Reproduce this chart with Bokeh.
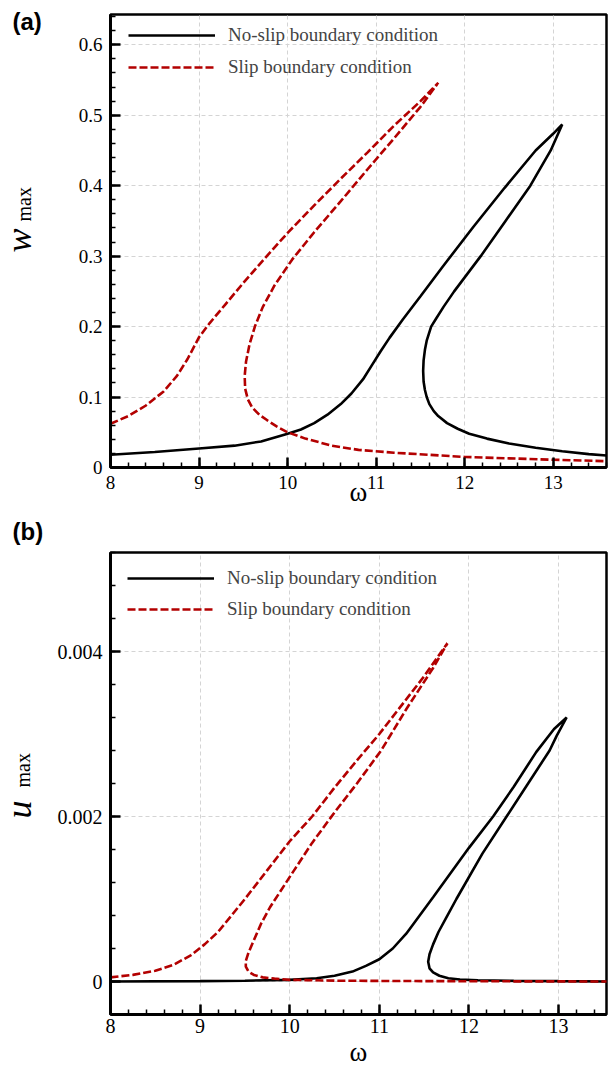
import numpy as np
from bokeh.plotting import figure
from bokeh.models import FixedTicker, Label, Legend, LegendItem, Range1d
from bokeh.layouts import column, row
from bokeh.embed import file_html
from bokeh.resources import INLINE

# ---------------- data ----------------
omega_ticks = [8, 9, 10, 11, 12, 13]
w_ticks = [0, 0.1, 0.2, 0.3, 0.4, 0.5, 0.6]
w_tick_labels = ["0", "0.1", "0.2", "0.3", "0.4", "0.5", "0.6"]
u_ticks = [0, 0.002, 0.004]
u_tick_labels = ["0", "0.002", "0.004"]

series_names = ["No-slip boundary condition", "Slip boundary condition"]

# (a) w_max, no-slip: path along the response curve
w_noslip_omega = [8.0, 8.5, 9.0, 9.4, 9.7, 10.0, 10.15, 10.3, 10.45, 10.6, 10.72, 10.85, 10.95,
                  11.05, 11.15, 11.3, 11.5, 11.75, 12.1, 12.45, 12.8, 13.0, 13.1,
                  12.97, 12.74, 12.46, 12.18, 11.88, 11.76, 11.67, 11.62, 11.595, 11.57, 11.55,
                  11.535, 11.53, 11.535, 11.55, 11.57, 11.6, 11.65, 11.7, 11.8, 11.92, 12.05,
                  12.25, 12.5, 12.8, 13.1, 13.4, 13.6]
w_noslip = [0.018, 0.022, 0.027, 0.031, 0.037, 0.048, 0.054, 0.063, 0.075, 0.09, 0.105, 0.125, 0.145,
            0.165, 0.184, 0.21, 0.243, 0.285, 0.342, 0.397, 0.45, 0.474, 0.487,
            0.45, 0.4, 0.35, 0.3, 0.25, 0.228, 0.21, 0.2, 0.19, 0.18, 0.167,
            0.152, 0.137, 0.122, 0.11, 0.1, 0.09, 0.08, 0.073, 0.063, 0.055, 0.048,
            0.041, 0.034, 0.028, 0.023, 0.019, 0.017]

# (a) w_max, slip
w_slip_omega = [8.0, 8.2, 8.4, 8.6, 8.75, 8.87, 9.0, 9.12, 9.3, 9.5, 9.75, 10.0, 10.3, 10.6, 10.9,
                11.2, 11.5, 11.7,
                11.5, 11.2, 10.9, 10.6, 10.3, 10.05, 9.85, 9.72, 9.63, 9.57, 9.53, 9.515, 9.52,
                9.55, 9.6, 9.68, 9.77, 9.88, 10.0, 10.2, 10.5, 10.8, 11.2, 11.6, 12.0, 12.5,
                13.0, 13.6]
w_slip = [0.062, 0.073, 0.088, 0.108, 0.13, 0.154, 0.185, 0.205, 0.232, 0.262, 0.298, 0.333, 0.372,
          0.41, 0.447, 0.485, 0.52, 0.546,
          0.512, 0.467, 0.423, 0.378, 0.334, 0.295, 0.258, 0.228, 0.2, 0.175, 0.15, 0.13, 0.112,
          0.097, 0.085, 0.075, 0.067, 0.058, 0.05, 0.041, 0.031, 0.025, 0.021, 0.018, 0.015, 0.013,
          0.011, 0.009]

# (b) u_max, no-slip
u_noslip_omega = [8.0, 9.0, 9.5, 10.0, 10.3, 10.5, 10.7, 10.85, 11.0, 11.15, 11.3, 11.45, 11.6,
                  11.8, 12.0, 12.27, 12.5, 12.75, 12.95, 13.09,
                  12.98, 12.9, 12.66, 12.42, 12.15, 11.86, 11.75, 11.66, 11.6, 11.56, 11.545,
                  11.56, 11.6, 11.67, 11.77, 11.9, 12.1, 12.5, 13.0, 13.6]
u_noslip = [0.0, 0.000005, 0.00001, 0.00002, 0.00004, 0.00007, 0.00012, 0.00019, 0.00027, 0.0004,
            0.00058, 0.0008, 0.00102, 0.00132, 0.00162, 0.002, 0.00236, 0.00278, 0.00306, 0.0032,
            0.00298, 0.0028, 0.0024, 0.002, 0.00155, 0.001, 0.00078, 0.0006, 0.00045, 0.00033,
            0.00024, 0.00016, 0.00011, 0.00007, 0.00004, 0.000025, 0.000015, 0.000008, 0.000004, 0.0]

# (b) u_max, slip
u_slip_omega = [8.0, 8.25, 8.5, 8.7, 8.9, 9.05, 9.2, 9.35, 9.5, 9.75, 10.0, 10.25, 10.5, 10.75,
                11.0, 11.25, 11.5, 11.76,
                11.6, 11.3, 11.02, 10.75, 10.5, 10.25, 10.05, 9.9, 9.78, 9.68, 9.6, 9.54, 9.51,
                9.51, 9.54, 9.6, 9.7, 9.83, 10.0, 10.5, 11.0, 12.0, 13.6]
u_slip = [0.00005, 0.00008, 0.00013, 0.0002, 0.00032, 0.00045, 0.0006, 0.0008, 0.001, 0.00135,
          0.0017, 0.002, 0.00235, 0.00268, 0.003, 0.00335, 0.0037, 0.0041,
          0.0038, 0.0033, 0.0028, 0.0024, 0.00205, 0.00168, 0.00135, 0.0011, 0.0009, 0.0007,
          0.0005, 0.00035, 0.00025, 0.00018, 0.00012, 0.00008, 0.00005, 0.000035, 0.00002,
          0.00001, 0.000007, 0.000003, 0.0]

# ---------------- styling ----------------
SERIF = "Liberation Serif"
RED = "#b30000"
GRID = "#d4d4d4"
STRIP_W = 50      # width of the strip holding the panel tags and y-axis titles
PAGE_H = 1073
TOP_H = 520


def style_axes(p, yticks, ylabels, ystep, fs, tick_standoff, label_standoff):
    xminor = [v for v in np.arange(8.0, 14.0, 0.2)]
    ylo = p.y_range.start
    yhi = p.y_range.end
    yminor = [v for v in np.arange(yticks[0] - 5 * ystep, yhi + ystep, ystep)
              if ylo - 1e-12 <= v <= yhi + 1e-12]
    p.xaxis.ticker = FixedTicker(ticks=omega_ticks, minor_ticks=xminor)
    p.yaxis.ticker = FixedTicker(ticks=yticks, minor_ticks=yminor)
    p.yaxis.major_label_overrides = {t: l for t, l in zip(yticks, ylabels)}
    for ax in (p.xaxis[0], p.yaxis[0]):
        ax.axis_line_width = 3
        ax.axis_line_color = "black"
        ax.major_tick_in = 10
        ax.major_tick_out = 0
        ax.minor_tick_in = 5
        ax.minor_tick_out = 0
        ax.major_tick_line_width = 2.5
        ax.minor_tick_line_width = 1.5
        ax.major_label_text_font = SERIF
        ax.major_label_text_font_size = fs
        ax.major_label_text_color = "black"
    p.xaxis.major_label_standoff = tick_standoff
    p.yaxis.major_label_standoff = 8
    p.xaxis.axis_label = "ω"
    p.xaxis.axis_label_text_font = SERIF
    p.xaxis.axis_label_text_font_style = "normal"
    p.xaxis.axis_label_text_font_size = "27px"
    p.xaxis.axis_label_standoff = label_standoff
    p.xaxis.axis_label_text_color = "black"
    p.xgrid.ticker = FixedTicker(ticks=omega_ticks)
    p.ygrid.ticker = FixedTicker(ticks=yticks)
    for g in (p.xgrid[0], p.ygrid[0]):
        g.grid_line_color = GRID
        g.grid_line_dash = "4 3"
        g.grid_line_width = 1
    p.outline_line_color = "black"
    p.outline_line_width = 2.5
    p.outline_line_alpha = 1.0
    p.background_fill_color = "white"
    p.border_fill_color = "white"


def add_legend(p, r1, r2, loc, spacing):
    leg = Legend(items=[LegendItem(label=series_names[0], renderers=[r1]),
                        LegendItem(label=series_names[1], renderers=[r2])],
                 location=loc, orientation="vertical", padding=0, margin=0,
                 spacing=spacing, glyph_width=87, glyph_height=20, label_height=20,
                 label_standoff=13, label_text_font=SERIF, label_text_font_size="19px",
                 border_line_alpha=0, background_fill_alpha=0)
    p.add_layout(leg)


# one tall strip to the left of both panels; its frame is the whole strip and its
# units are page pixels (x from the left, y from the top), so texts are not clipped
strip = figure(frame_width=STRIP_W, frame_height=PAGE_H, output_backend="svg",
               toolbar_location=None, title=None, align="start",
               x_range=Range1d(0, STRIP_W), y_range=Range1d(0, PAGE_H),
               x_axis_type=None, y_axis_type=None,
               min_border=0, min_border_left=0, min_border_right=0,
               min_border_top=0, min_border_bottom=0)
strip.outline_line_color = None
strip.grid.visible = False
strip.background_fill_color = "white"
strip.border_fill_color = "white"


def put(pos, **kw):
    strip.add_layout(Label(x=pos[0], y=PAGE_H - pos[1], text_color="black", **kw))


def panel_texts(tag, sym, tag_pos, sym_pos, max_pos):
    put(tag_pos, text=tag, text_font="Liberation Sans", text_font_style="bold",
        text_font_size="24px", text_align="left", text_baseline="top")
    put(sym_pos, text=sym, angle=np.pi / 2, text_font=SERIF, text_font_style="italic",
        text_font_size="36px", text_align="left", text_baseline="alphabetic")
    put(max_pos, text="max", angle=np.pi / 2, text_font=SERIF, text_font_size="20px",
        text_align="left", text_baseline="alphabetic")


panel_texts("(a)", "w", (12, 7), (18, 252), (23, 221))
panel_texts("(b)", "u", (12, 517), (18, 818), (22, 787))

# ---------------- panel (a) ----------------
pa = figure(width=608 - STRIP_W, height=TOP_H, output_backend="svg", toolbar_location=None,
            x_range=Range1d(8, 13.6), y_range=Range1d(0, 0.643), align="start",
            min_border_left=110 - STRIP_W, min_border_right=2, min_border_top=14, min_border_bottom=53)
ra1 = pa.line(w_noslip_omega, w_noslip, line_color="black", line_width=2.6)
ra2 = pa.line(w_slip_omega, w_slip, line_color=RED, line_width=2.6, line_dash="8 3")
style_axes(pa, w_ticks, w_tick_labels, 0.02, "19px", 8, -15)
add_legend(pa, ra1, ra2, (18, 389), 10)

# ---------------- panel (b) ----------------
pb = figure(width=608 - STRIP_W, height=PAGE_H - TOP_H, output_backend="svg", toolbar_location=None,
            x_range=Range1d(8, 13.535), y_range=Range1d(-0.0004, 0.0052), align="start",
            min_border_left=106 - STRIP_W, min_border_right=0, min_border_top=32, min_border_bottom=59)
rb1 = pb.line(u_noslip_omega, u_noslip, line_color="black", line_width=2.6)
rb2 = pb.line(u_slip_omega, u_slip, line_color=RED, line_width=2.6, line_dash="8 3")
style_axes(pb, u_ticks, u_tick_labels, 0.0004, "20px", 4, 1)
add_legend(pb, rb1, rb2, (17, 394), 9)

layout = row(strip, column(pa, pb, spacing=0), spacing=0)
open("out.html", "w").write(file_html(layout, INLINE))
